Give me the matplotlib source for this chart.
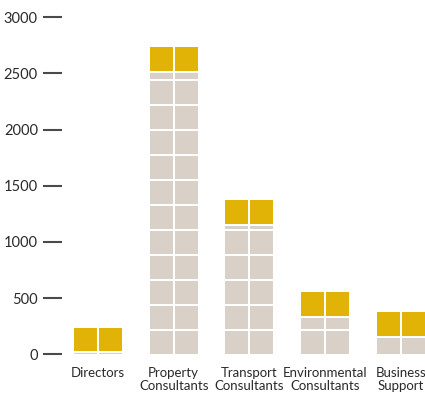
import matplotlib
matplotlib.use("Agg")
import matplotlib.pyplot as plt

# Staff numbers per group: grey block stack plus a gold cap on top
categories = ["Directors", "Property\nConsultants", "Transport\nConsultants",
              "Environmental\nConsultants", "Business\nSupport"]
base_values = [27, 2520, 1160, 340, 162]
cap_values = [225, 232, 235, 232, 228]
yticks = [0, 500, 1000, 1500, 2000, 2500, 3000]

BLOCK = 223            # value represented by one full block
GREY = "#d9d1c8"
GOLD = "#e0b306"
TEXT = "#2a2a2a"

fig = plt.figure(figsize=(4.25, 3.96), dpi=100)
ax = fig.add_axes([62 / 425, (396 - 354.3) / 396, (425 - 62) / 425, 337 / 396])
ax.set_ylim(0, 3000)
ax.set_xlim(-0.4752, 4.3168)

px_y = 3000 / 337.0          # data units per pixel, vertical
px_x = 1 / 75.75             # data units per pixel, horizontal
gap_y = 2.0 * px_y
col_w = 23 * px_x
col_off = (23 + 2) / 2 * px_x


def draw_segment(x, bottom, top, color):
    h = max(top - bottom - gap_y, 0.9 * px_y)
    for dx in (-col_off, col_off):
        ax.bar(x + dx, h, width=col_w, bottom=bottom, color=color,
               linewidth=0, clip_on=False)


for i, (base, cap) in enumerate(zip(base_values, cap_values)):
    b = 0.0
    while b < base - 1e-9:
        t = min(b + BLOCK, base)
        draw_segment(i, b, t, GREY)
        b = t
    draw_segment(i, base, base + cap, GOLD)

for s in ax.spines.values():
    s.set_visible(False)

ax.set_yticks(yticks)
ax.set_yticklabels([str(v) for v in yticks], fontfamily="Lato", fontsize=10.5,
                   color=TEXT)
ax.tick_params(axis="y", direction="out", length=13.4, width=1.5,
               color="#4a4a4a", pad=4)

ax.set_xticks(range(len(categories)))
ax.set_xticklabels(categories, fontfamily="Lato", fontsize=9.5, color=TEXT,
                   linespacing=1.15)
ax.tick_params(axis="x", length=0, pad=9)

fig.savefig("out.png", dpi=100)
